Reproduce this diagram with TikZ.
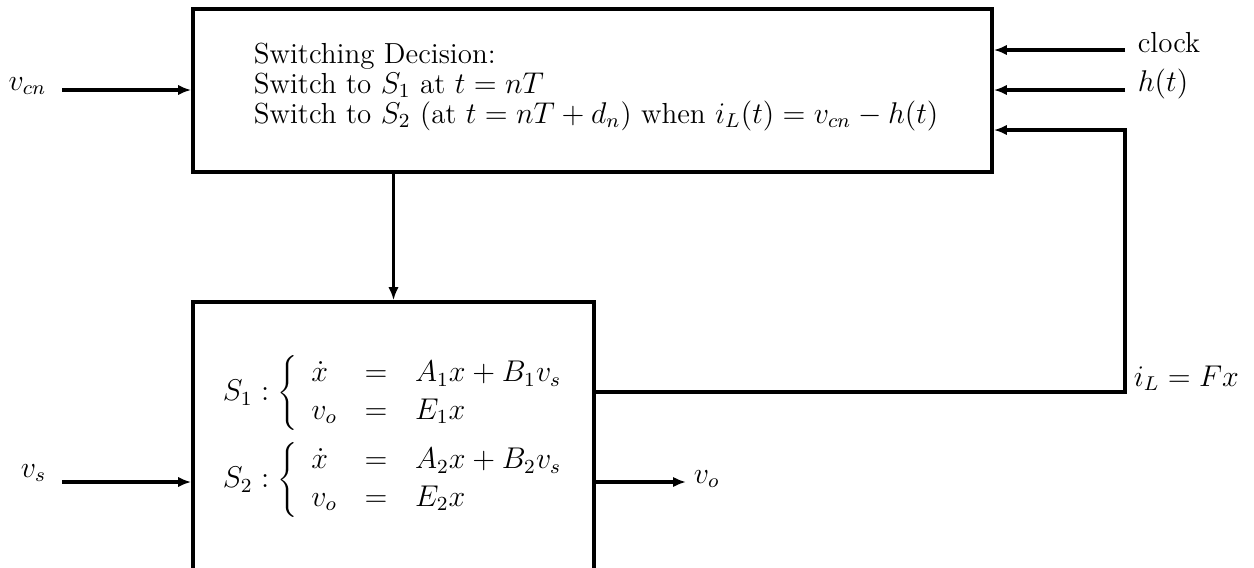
\documentclass[tikz,border=0pt]{standalone}
\usetikzlibrary{arrows.meta}
\begin{document}
\begin{tikzpicture}[x=0.4pt,y=-0.4pt,
  every node/.style={font=\fontsize{11.6}{12}\selectfont},
  ln/.style={line width=1.5pt},
  arr/.style={ln,-{Latex[length=5.2pt,width=4.2pt]}},
  blk/.style={draw,ln,rectangle,inner sep=0pt},
  lbl/.style={inner sep=3.33pt}]
\clip (0,0) rectangle (1254,567);
% blocks
\node[blk,minimum width=319.6pt,minimum height=65.2pt] (dec) at (592.5,90.5) {};
\node[blk,minimum width=160.4pt,minimum height=119.2pt] (sys) at (393.5,451) {};
% text of the decision block
\node[lbl,anchor=base west] (t1) at (245,63) {Switching Decision:};
\node[lbl,anchor=base west] (t2) at (245,93) {Switch to $S_1$ at $t=nT$};
\node[lbl,anchor=base west] (t3) at (245,123) {Switch to $S_2$ (at $t=nT+d_n$) when $i_L(t)=v_{cn}-h(t)$};
% equations of the system block
\node[lbl,anchor=west] (e1) at (214,393) {\renewcommand{\arraystretch}{1.25}\setlength{\arraycolsep}{5.5pt}$S_1:\left\{\begin{array}{lcl}\dot{x} & = & A_1x+B_1v_s\\ v_o & = & E_1x\end{array}\right.$};
\node[lbl,anchor=west] (e2) at (214,480) {\renewcommand{\arraystretch}{1.25}\setlength{\arraycolsep}{5.5pt}$S_2:\left\{\begin{array}{lcl}\dot{x} & = & A_2x+B_2v_s\\ v_o & = & E_2x\end{array}\right.$};
% free ends
\coordinate (vcnS) at (62,90);
\coordinate (vsS) at (62,482);
\coordinate (clkS) at (1125,50);
\coordinate (hS) at (1125,90);
\coordinate (fb) at (1125,392);
\coordinate (fbt) at (1125,130);
\coordinate (voE) at (686,482);
% labels
\node[lbl,anchor=base east] (vcn) at (55,90) {$v_{cn}$};
\node[lbl,anchor=base east] (vs) at (55,477) {$v_s$};
\node[lbl,anchor=base west] (clk) at (1129,52) {clock};
\node[lbl,anchor=base west] (h) at (1129,91) {$h(t)$};
\node[lbl,anchor=base west] (il) at (1125,386) {$i_L=Fx$};
\node[lbl,anchor=base west] (vo) at (685,483) {$v_o$};
% connectors
\draw[arr] (vcnS) -- (vcnS -| dec.west);
\draw[arr] (vsS) -- (vsS -| sys.west);
\draw[arr] (clkS) -- (clkS -| dec.east);
\draw[arr] (hS) -- (hS -| dec.east);
\draw[arr] (sys.north |- dec.south) -- (sys.north);
\draw[arr] (sys.east |- fb) -- (fb) -- (fbt) -- (fbt -| dec.east);
\draw[arr] (voE -| sys.east) -- (voE);
\end{tikzpicture}
\end{document}
